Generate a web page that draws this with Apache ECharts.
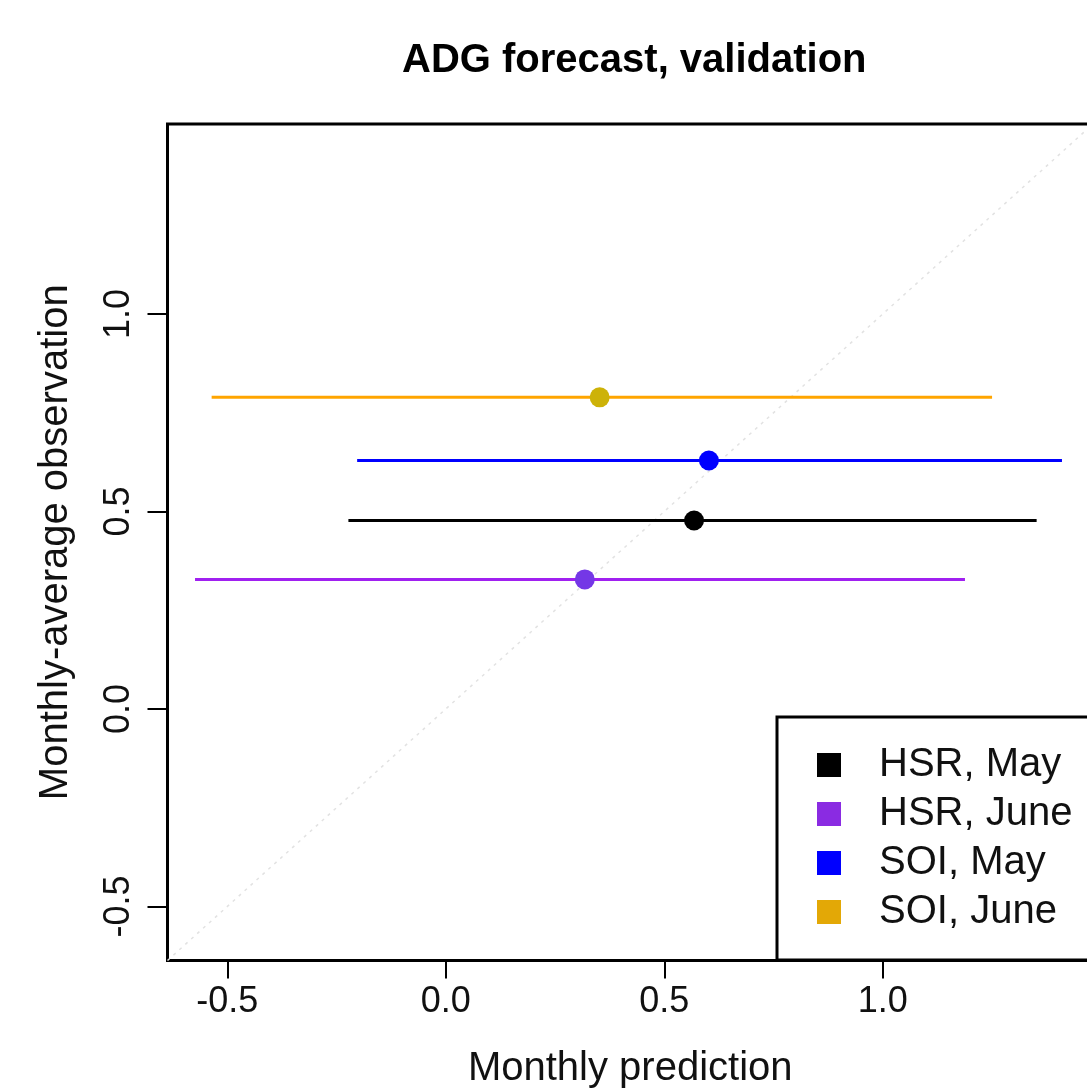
<!DOCTYPE html>
<html>
<head>
<meta charset="utf-8">
<title>ADG forecast, validation</title>
<script src="https://cdn.jsdelivr.net/npm/echarts@6.0.0/dist/echarts.min.js"></script>
<style>
	html, body { margin: 0; padding: 0; background: #fff; }
	#adg_chart { width: 1087px; height: 1092px; }
</style>
</head>
<body>
<div id="adg_chart"></div>
<script>
// groups, in legend order
var groups = ['HSR, May', 'HSR, June', 'SOI, May', 'SOI, June'];
var lineColors = ['#000000', '#a020f0', '#0000ff', '#ffa500'];
var pointColors = ['#000000', '#7437e6', '#0000ff', '#cdb208'];
var legendColors = ['#000000', '#8a2be2', '#0000ff', '#e3a806'];

// monthly prediction (x) and monthly-average observation (y)
var predicted = [0.568, 0.318, 0.602, 0.352];
var observed = [0.477, 0.328, 0.629, 0.789];
// horizontal interval of each prediction
var lowerBound = [-0.223, -0.574, -0.203, -0.536];
var upperBound = [1.352, 1.188, 1.410, 1.250];

var tickValues = [-0.5, 0.0, 0.5, 1.0];
var axisLimits = [-0.637, 1.481];
var diagonal = [-0.637, 1.481];

var adg_chart = {};

adg_chart.buildSeries = function() {
	var series = [];
	// 1:1 reference line, very faint
	series.push({
		name : 'diagonal',
		type : 'line',
		data : [ [diagonal[0], diagonal[0]], [diagonal[1], diagonal[1]] ],
		symbol : 'none',
		silent : true,
		lineStyle : { color : '#e2e2e2', width : 1.5, type : [3, 5] },
		z : 1
	});
	for (var i = 0; i < groups.length; i++) {
		series.push({
			name : groups[i] + ' range',
			type : 'line',
			data : [ [lowerBound[i], observed[i]], [upperBound[i], observed[i]] ],
			symbol : 'none',
			silent : true,
			lineStyle : { color : lineColors[i], width : 3 },
			z : 2
		});
	}
	for (var j = 0; j < groups.length; j++) {
		series.push({
			name : groups[j],
			type : 'scatter',
			data : [ [predicted[j], observed[j]] ],
			symbol : 'circle',
			symbolSize : 20,
			itemStyle : { color : pointColors[j], opacity : 1 },
			z : 3
		});
	}
	return series;
};

adg_chart.init = function() {
	var chart = echarts.init(document.getElementById('adg_chart'));
	adg_chart.chart = chart;

	var legendData = [];
	for (var i = 0; i < groups.length; i++) {
		legendData.push({
			name : groups[i],
			icon : 'rect',
			itemStyle : { color : legendColors[i] }
		});
	}

	var fmt = function(v) { return Number(v).toFixed(1); };

	var option = {
		backgroundColor : '#ffffff',
		animation : false,
		title : {
			text : 'ADG forecast, validation',
			left : 397,
			top : 36,
			textStyle : {
				fontFamily : 'Liberation Sans',
				fontSize : 40,
				fontWeight : 'bold',
				color : '#000'
			}
		},
		legend : {
			data : legendData,
			orient : 'vertical',
			left : 777,
			top : 717,
			padding : [28, 40, 28, 40],
			itemWidth : 24,
			itemHeight : 24,
			itemGap : 9,
			backgroundColor : '#ffffff',
			borderColor : '#000',
			borderWidth : 3,
			selectedMode : false,
			textStyle : {
				fontFamily : 'Liberation Sans',
				fontSize : 40,
				lineHeight : 40,
				color : '#111',
				padding : [0, 0, 0, 33]
			},
			z : 10
		},
		grid : {
			left : 167.5,
			top : 124,
			width : 925.5,
			bottom : 131.5,
			outerBoundsMode : 'none',
			show : true,
			borderColor : '#000',
			borderWidth : 3,
			backgroundColor : 'transparent'
		},
		xAxis : {
			type : 'value',
			min : axisLimits[0],
			max : axisLimits[1],
			name : 'Monthly prediction',
			nameLocation : 'middle',
			nameGap : 88,
			nameTextStyle : { fontFamily : 'Liberation Sans', fontSize : 40, color : '#111' },
			axisLine : { show : false, onZero : false },
			splitLine : { show : false },
			axisTick : {
				show : true,
				customValues : tickValues,
				length : 18,
				lineStyle : { color : '#000', width : 2 }
			},
			axisLabel : {
				customValues : tickValues,
				formatter : fmt,
				margin : 24,
				fontFamily : 'Liberation Sans',
				fontSize : 36,
				color : '#111'
			}
		},
		yAxis : {
			type : 'value',
			min : axisLimits[0],
			max : axisLimits[1],
			name : 'Monthly-average observation',
			nameLocation : 'middle',
			nameGap : 92,
			nameTextStyle : { fontFamily : 'Liberation Sans', fontSize : 40, color : '#111' },
			axisLine : { show : false, onZero : false },
			splitLine : { show : false },
			axisTick : {
				show : true,
				customValues : tickValues,
				length : 20,
				lineStyle : { color : '#000', width : 2 }
			},
			axisLabel : {
				customValues : tickValues,
				formatter : fmt,
				rotate : 90,
				margin : 30,
				fontFamily : 'Liberation Sans',
				fontSize : 36,
				color : '#111'
			}
		},
		series : adg_chart.buildSeries()
	};
	chart.setOption(option);
};

adg_chart.init();
</script>
</body>
</html>
